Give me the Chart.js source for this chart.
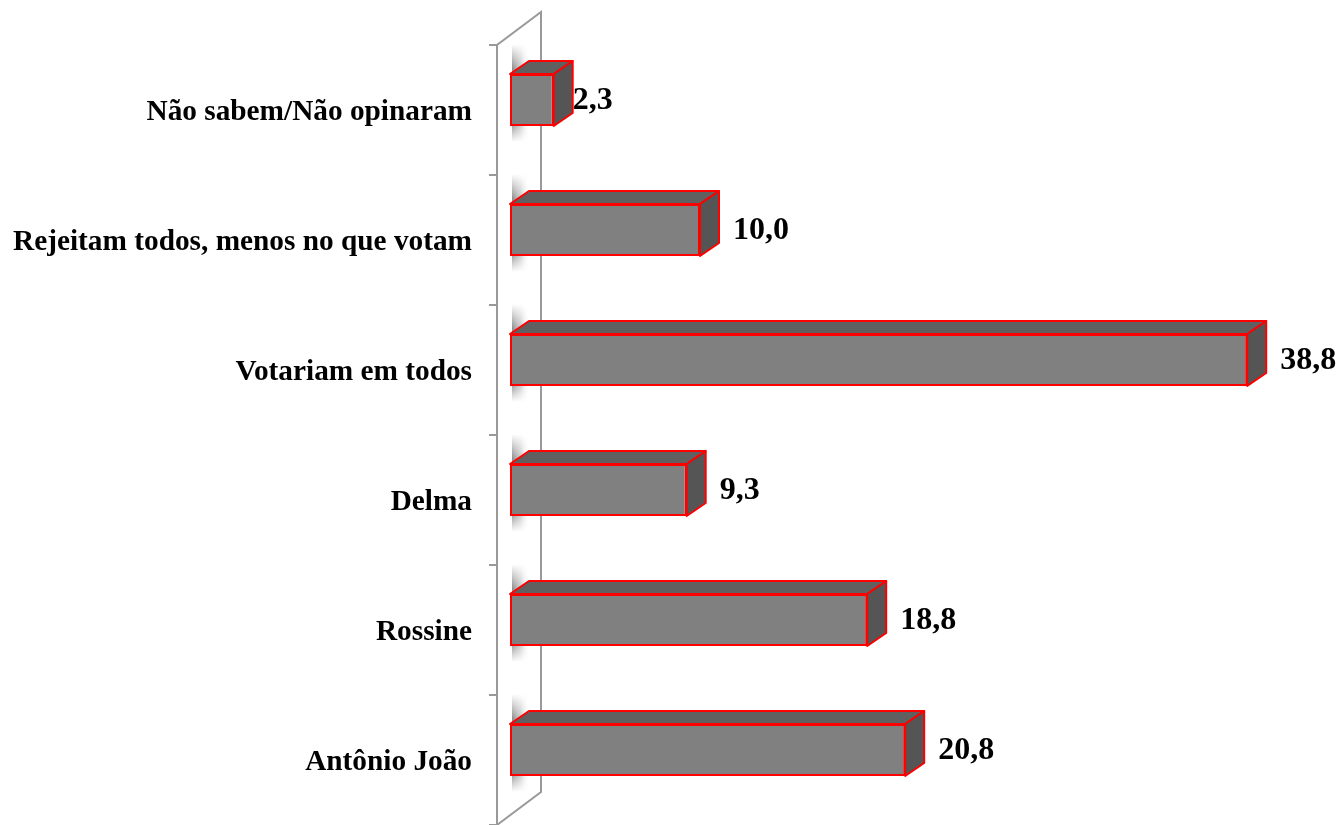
<!DOCTYPE html>
<html>
<head>
<meta charset="utf-8">
<script src="https://cdn.jsdelivr.net/npm/chart.js@4.4.0/dist/chart.umd.min.js"></script>
<style>
  body { margin: 0; background: #fff; }
  canvas { display: block; }
</style>
</head>
<body>
<canvas id="rejChart" width="1339" height="825"></canvas>
<script>
const categories = [
    "Não sabem/Não opinaram",
    "Rejeitam todos, menos no que votam",
    "Votariam em todos",
    "Delma",
    "Rossine",
    "Antônio João"
];
const values = [2.3, 10.0, 38.8, 9.3, 18.8, 20.8];

const DX = 19, DY = -13; // 3d depth

function fmt(v) {
    return v.toFixed(1).replace(".", ",");
}

// soft shadow strip cast on the wall
function makeShadow(w, h) {
    const c = document.createElement("canvas");
    c.width = w;
    c.height = h;
    const g = c.getContext("2d");
    const hg = g.createLinearGradient(0, 0, w, 0);
    hg.addColorStop(0, "rgba(140,140,140,1)");
    hg.addColorStop(0.5, "rgba(180,180,180,0.7)");
    hg.addColorStop(1, "rgba(255,255,255,0)");
    g.fillStyle = hg;
    g.fillRect(0, 0, w, h);
    g.globalCompositeOperation = "destination-in";
    const vg = g.createLinearGradient(0, 0, 0, h);
    vg.addColorStop(0, "rgba(0,0,0,0)");
    vg.addColorStop(0.25, "rgba(0,0,0,1)");
    vg.addColorStop(0.8, "rgba(0,0,0,1)");
    vg.addColorStop(1, "rgba(0,0,0,0)");
    g.fillStyle = vg;
    g.fillRect(0, 0, w, h);
    return c;
}

// back wall, tick marks and the shadows behind the bars
const wallPlugin = {
    id: "wall",
    beforeDatasetsDraw(chart) {
        const { ctx, chartArea } = chart;
        const left = chartArea.left;
        const fx = left - 13, bx = left + 31;
        const top = chartArea.top + 10, bottom = chartArea.bottom + 10;
        ctx.save();
        ctx.strokeStyle = "#999";
        ctx.lineWidth = 2;
        ctx.beginPath();
        ctx.moveTo(fx, bottom);
        ctx.lineTo(fx, top);
        ctx.lineTo(bx, top - 33);
        ctx.lineTo(bx, bottom - 33);
        ctx.lineTo(fx, bottom);
        ctx.stroke();
        const step = (chartArea.bottom - chartArea.top) / categories.length;
        ctx.beginPath();
        for (let i = 0; i <= categories.length; i++) {
            const y = top + i * step;
            ctx.moveTo(fx - 8, y);
            ctx.lineTo(fx, y);
        }
        ctx.stroke();

        const meta = chart.getDatasetMeta(0);
        meta.data.forEach((bar) => {
            const p = bar.getProps(["y", "height"], true);
            const t = p.y - p.height / 2 - 30, b = p.y + p.height / 2 + 16;
            const img = makeShadow(18, Math.round(b - t));
            ctx.drawImage(img, left + 2, t);
        });
        ctx.restore();
    }
};

// top and side faces plus the value labels
const boxPlugin = {
    id: "box3d",
    afterDatasetsDraw(chart) {
        const { ctx } = chart;
        const meta = chart.getDatasetMeta(0);
        ctx.save();
        ctx.lineWidth = 2;
        ctx.strokeStyle = "#ff0000";
        ctx.lineJoin = "round";
        meta.data.forEach((bar, i) => {
            const p = bar.getProps(["x", "y", "base", "height"], true);
            const x0 = p.base, x1 = p.x;
            const t = p.y - p.height / 2, b = p.y + p.height / 2;

            ctx.beginPath();
            ctx.moveTo(x0, t);
            ctx.lineTo(x0 + DX, t + DY);
            ctx.lineTo(x1 + DX, t + DY);
            ctx.lineTo(x1, t);
            ctx.closePath();
            ctx.fillStyle = "#606060";
            ctx.fill();
            ctx.stroke();

            ctx.beginPath();
            ctx.moveTo(x1, t);
            ctx.lineTo(x1 + DX, t + DY);
            ctx.lineTo(x1 + DX, b + DY);
            ctx.lineTo(x1, b);
            ctx.closePath();
            ctx.fillStyle = "#555555";
            ctx.fill();
            ctx.stroke();

            ctx.fillStyle = "#000";
            ctx.font = "bold 32px 'Liberation Serif', 'Times New Roman', serif";
            ctx.textAlign = "left";
            ctx.textBaseline = "middle";
            const gap = values[i] < 5 ? 0 : 14;
            ctx.fillText(fmt(values[i]), x1 + DX + gap, p.y + 1);
        });
        ctx.restore();
    }
};

new Chart(document.getElementById("rejChart"), {
    type: "bar",
    data: {
        labels: categories,
        datasets: [
            {
                data: values,
                backgroundColor: "#808080",
                borderColor: "#ff0000",
                borderWidth: 2,
                borderSkipped: false,
                barPercentage: 0.4,
                categoryPercentage: 1,
            },
        ],
    },
    options: {
        indexAxis: "y",
        responsive: false,
        animation: false,
        layout: { padding: { top: 35, bottom: 10, left: 0, right: 69 } },
        plugins: {
            legend: { display: false },
            tooltip: { enabled: false },
        },
        scales: {
            x: { display: false, min: 0, max: 40 },
            y: {
                grid: { display: false, drawTicks: false },
                border: { display: false },
                afterFit(scale) {
                    scale.width = 510;
                    scale.paddingTop = 0;
                    scale.paddingBottom = 0;
                },
                ticks: {
                    padding: 38,
                    labelOffset: 12,
                    color: "#000",
                    font: { family: "'Liberation Serif', 'Times New Roman', serif", size: 29.3, weight: "bold" },
                },
            },
        },
    },
    plugins: [wallPlugin, boxPlugin],
});
</script>
</body>
</html>
